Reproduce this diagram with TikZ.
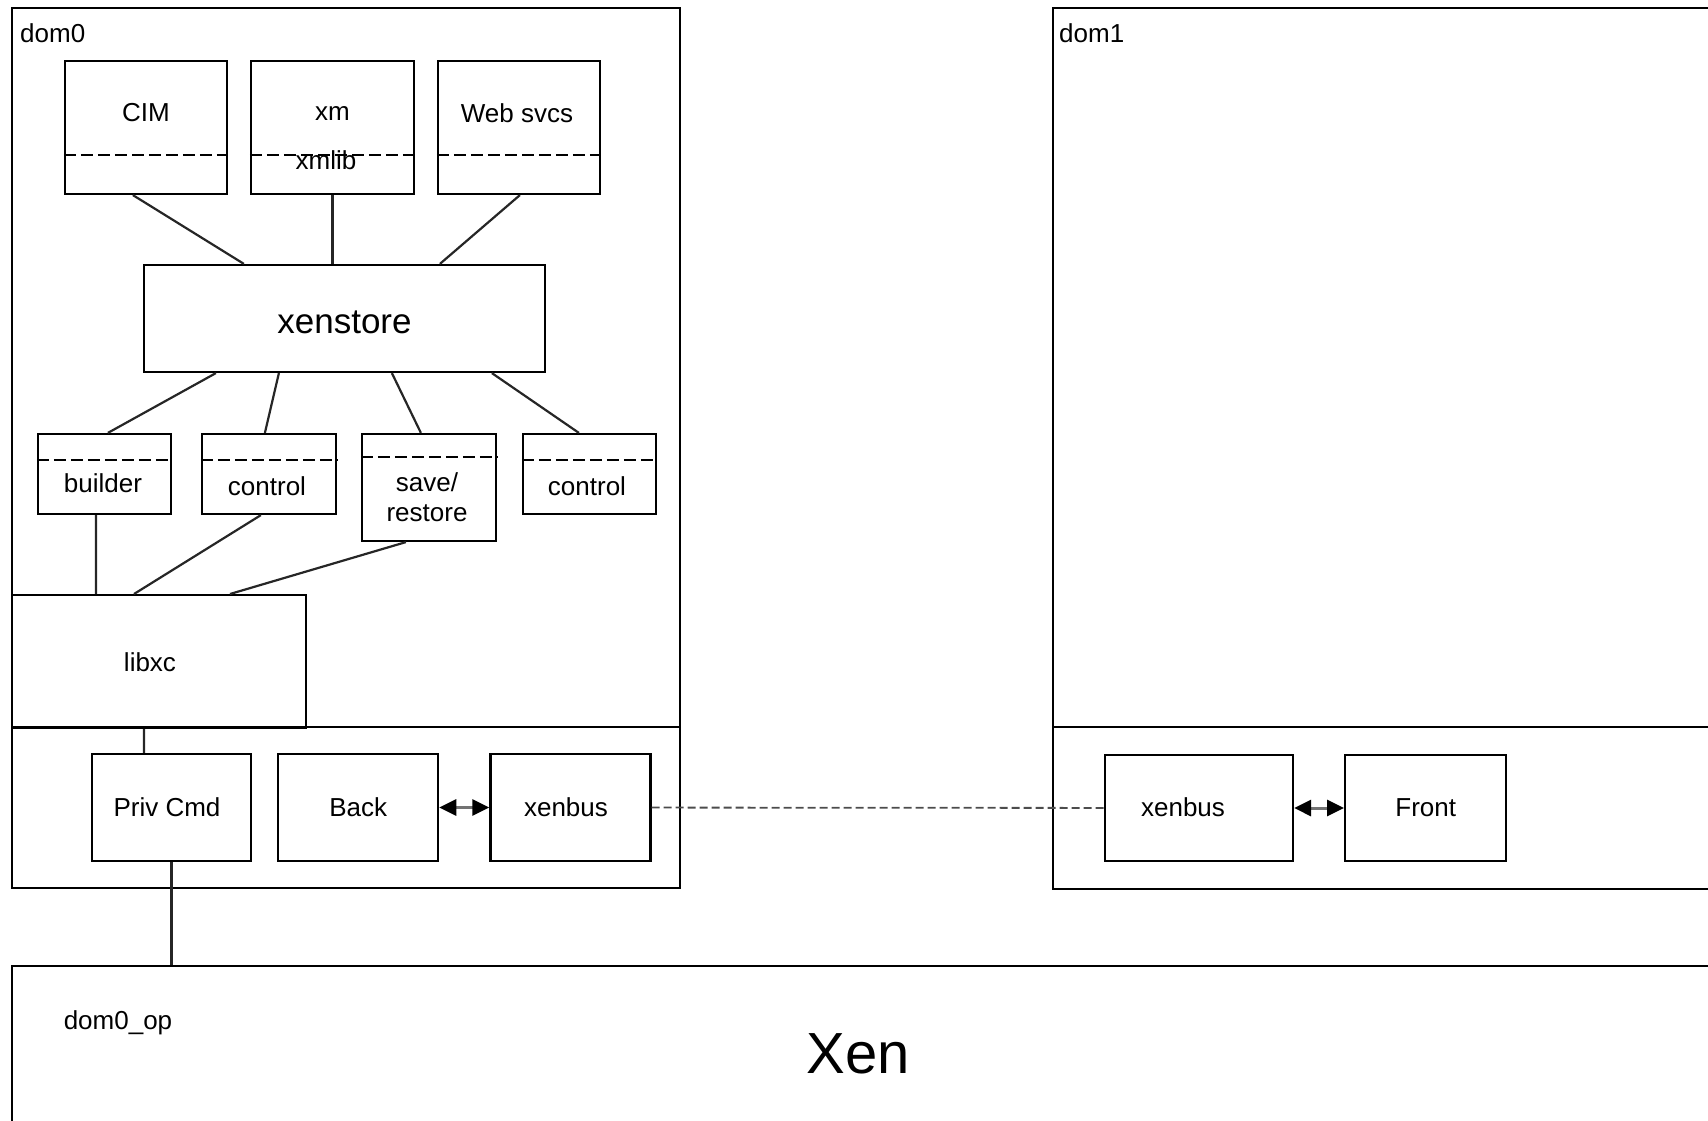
\documentclass[tikz,border=0pt]{standalone}
\usepackage{fontspec}
\setmainfont{Liberation Sans}
\usepackage{tikz}
\usetikzlibrary{arrows.meta,calc,positioning}

\begin{document}
\begin{tikzpicture}[x=1pt,y=-1pt]

\tikzset{
  vmbox/.style={draw, line width=2.3pt, inner sep=0pt, anchor=north west},
  box/.style={draw, line width=2.2pt, inner sep=0pt, font=\fontsize{26}{30}\selectfont},
  lbl/.style={inner sep=0pt, font=\fontsize{26}{30}\selectfont},
  wire/.style={line width=2.2pt, black!85},
  sepline/.style={line width=2pt, dash pattern=on 12pt off 5pt},
  bus/.style={line width=1.8pt, black!70, dash pattern=on 8pt off 4pt},
  link/.style={line width=3pt, black!55, {Triangle[length=17pt,width=16pt,black]}-{Triangle[length=17pt,width=16pt,black]}}
}

\clip (0,0) rectangle (1708,1121);

\node[vmbox, minimum width=668, minimum height=880] (dom0) at (11,7) {};
\node[vmbox, minimum width=720, minimum height=881] (dom1) at (1052,7) {};
\node[vmbox, minimum width=1720, minimum height=200] (xen) at (11,965) {};
\node[lbl, anchor=west] (dom0lbl) at (20,33) {dom0};
\node[lbl, anchor=west] (dom1lbl) at (1059,33) {dom1};
\node[lbl] (dom0op) at (118,1023) {dom0\_op};
\node[inner sep=0pt, font=\fontsize{58}{64}\selectfont] (xenlbl) at (858,1054) {Xen};
\draw[line width=2.3pt] ($(dom0.north west)+(0,720)$) -- ($(dom0.north east)+(0,720)$);
\draw[line width=2.3pt] ($(dom1.north west)+(0,720)$) -- ($(dom1.north east)+(0,720)$);

\node[box, minimum width=162, minimum height=133] (cim) at (146,127.5) {};
\node[box, minimum width=163, minimum height=133] (xm) at (332.5,127.5) {};
\node[box, minimum width=162, minimum height=133] (web) at (519,127.5) {};
\node[lbl] (cimlbl) at (146,113) {CIM};
\node[lbl] (xmlbl) at (332.5,114) {xm};
\node[lbl] (weblbl) at (517,113) {Web svcs};
\node[lbl] (xmlib) at (326,160) {xmlib};
\draw[sepline] ($(cim.north west)+(0,95)$) -- ($(cim.north east)+(0,95)$);
\draw[sepline] ($(xm.north west)+(0,95)$) -- ($(xm.north east)+(0,95)$);
\draw[sepline] ($(web.north west)+(0,95)$) -- ($(web.north east)+(0,95)$);

\node[box, minimum width=401, minimum height=107] (xs) at (344.5,318.5) {};
\node[inner sep=0pt, font=\fontsize{35}{42}\selectfont] (xslbl) at (344.5,322.5) {xenstore};

\node[box, minimum width=133, minimum height=80] (builder) at (104.5,474) {};
\node[box, minimum width=134, minimum height=80] (ctrla) at (269,474) {};
\node[box, minimum width=134, minimum height=107] (save) at (429,487.5) {};
\node[box, minimum width=133, minimum height=80] (ctrlb) at (589.5,474) {};
\node[lbl] (builderlbl) at (103,483) {builder};
\node[lbl] (ctrlalbl) at (267,486) {control};
\node[lbl, align=center] (savelbl) at (427,497) {save/\\restore};
\node[lbl] (ctrlblbl) at (587,486) {control};
\draw[sepline] ($(builder.north west)+(0,27)$) -- ($(builder.north east)+(0,27)$);
\draw[sepline] ($(ctrla.north west)+(0,27)$) -- ($(ctrla.north east)+(0,27)$);
\draw[sepline] ($(save.north west)+(0,24)$) -- ($(save.north east)+(0,24)$);
\draw[sepline] ($(ctrlb.north west)+(0,27)$) -- ($(ctrlb.north east)+(0,27)$);

\node[box, anchor=north west, minimum width=294, minimum height=133] (libxc) at (11,594) {};
\node[lbl] (libxclbl) at (150,662) {libxc};

\node[box, minimum width=159, minimum height=107] (privcmd) at (171.5,807.5) {};
\node[box, minimum width=160, minimum height=107, right=25pt of privcmd] (back) {Back};
\node[box, minimum width=160, minimum height=107, right=50pt of back] (xba) {};
\node[box, minimum width=188, minimum height=106] (xbb) at (1199,808) {};
\node[box, minimum width=161, minimum height=106, right=50pt of xbb] (front) {Front};
\node[lbl] (privcmdlbl) at (167,807) {Priv Cmd};
\node[lbl] (xbalbl) at (566,807) {xenbus};
\node[lbl] (xbblbl) at (1183,807) {xenbus};

\draw[wire] ($(cim.south west)+(69,0)$) -- ($(xs.north west)+(101,0)$);
\draw[wire] (xm.south) -- (xm.south |- xs.north);
\draw[wire] ($(web.south west)+(83,0)$) -- ($(xs.north west)+(297,0)$);
\draw[wire] ($(xs.south west)+(73,0)$) -- ($(builder.north west)+(71,0)$);
\draw[wire] ($(xs.south west)+(136,0)$) -- ($(ctrla.north west)+(64,0)$);
\draw[wire] ($(xs.south west)+(249,0)$) -- ($(save.north west)+(60,0)$);
\draw[wire] ($(xs.south west)+(349,0)$) -- ($(ctrlb.north west)+(57,0)$);
\draw[wire] ($(builder.south west)+(59,0)$) -- ($(libxc.north west)+(85,0)$);
\draw[wire] ($(ctrla.south west)+(60,0)$) -- ($(libxc.north west)+(123,0)$);
\draw[wire] ($(save.south west)+(45,0)$) -- ($(libxc.north west)+(219,0)$);
\draw[wire] ($(privcmd.north west)+(53,0)$) -- ($(libxc.south west)+(133,0)$);
\draw[wire] (privcmd.south) -- (privcmd.south |- xen.north);
\draw[link] (back) -- (xba);
\draw[link] (xbb) -- (front);
\draw[bus] (xba) -- (xbb);

\end{tikzpicture}
\end{document}
